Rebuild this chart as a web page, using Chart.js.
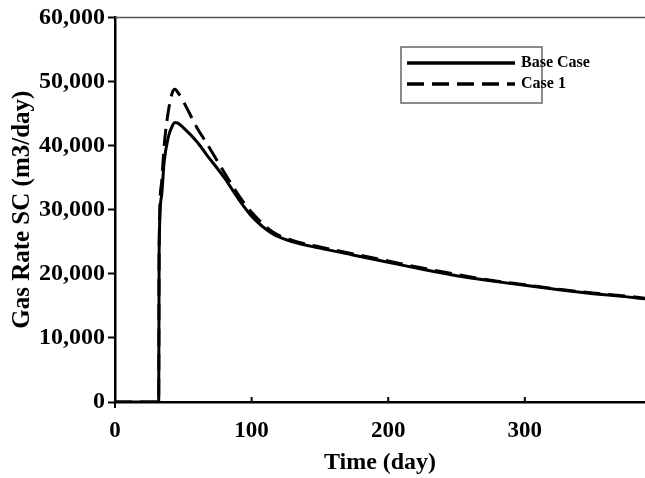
<!DOCTYPE html>
<html>
<head>
<meta charset="utf-8">
<script src="https://cdn.jsdelivr.net/npm/chart.js@4"></script>
<style>
  html, body { margin: 0; padding: 0; background: #fff; }
  #wrap { width: 645px; height: 478px; }
</style>
</head>
<body>
<div id="wrap"><canvas id="chart" width="645" height="478"></canvas></div>
<script>
const days = [0, 32, 32.3, 34, 36, 39, 42, 44, 46, 50, 60, 67, 80, 90, 100, 115, 130, 150, 175, 200, 225, 250, 275, 300, 325, 350, 375, 388];
const baseCase = [0, 0, 23500, 32000, 37500, 41300, 43100, 43600, 43500, 42800, 40600, 38600, 35000, 31800, 29000, 26300, 25000, 24000, 22900, 21800, 20700, 19700, 18900, 18200, 17500, 16900, 16400, 16100];
const case1 = [0, 0, 24000, 34000, 40000, 45300, 48300, 48800, 48300, 46900, 42800, 40400, 35800, 32400, 29600, 26600, 25200, 24200, 23100, 22000, 20900, 19900, 19000, 18300, 17600, 17000, 16500, 16200];
const seriesNames = ["Base Case", "Case 1"];
const xTicks = [0, 100, 200, 300];
const yTicks = [0, 10000, 20000, 30000, 40000, 50000, 60000];

const serif = "'Liberation Serif', 'Times New Roman', serif";

function toPoints(vals) {
  return days.map((d, i) => ({ x: d, y: vals[i] }));
}

// box legend in the top right plus the inner x ticks and top frame line
const extras = {
  id: "extras",
  afterDraw(chart) {
    const ctx = chart.ctx;
    const area = chart.chartArea;
    const xs = chart.scales.x;
    ctx.save();
    ctx.strokeStyle = "#555";
    ctx.lineWidth = 1.5;
    ctx.beginPath();
    ctx.moveTo(area.left, area.top);
    ctx.lineTo(area.right, area.top);
    ctx.stroke();

    ctx.strokeStyle = "#000";
    ctx.lineWidth = 2;
    xTicks.forEach(v => {
      const px = xs.getPixelForValue(v);
      ctx.beginPath();
      if (v === 0) {
        ctx.moveTo(px, area.bottom);
        ctx.lineTo(px, area.bottom + 6);
      } else {
        ctx.moveTo(px, area.bottom);
        ctx.lineTo(px, area.bottom - 5);
      }
      ctx.stroke();
    });

    // legend
    const bx = 401, by = 47, bw = 141, bh = 56;
    ctx.strokeStyle = "#666";
    ctx.lineWidth = 1.5;
    ctx.fillStyle = "#fff";
    ctx.fillRect(bx, by, bw, bh);
    ctx.strokeRect(bx, by, bw, bh);
    ctx.font = "bold 16px " + serif;
    ctx.textBaseline = "middle";
    chart.data.datasets.forEach((ds, i) => {
      const y = by + 16 + i * 21;
      ctx.strokeStyle = "#000";
      ctx.lineWidth = 3.5;
      ctx.setLineDash(ds.borderDash || []);
      ctx.beginPath();
      ctx.moveTo(bx + 6, y);
      ctx.lineTo(bx + 114, y);
      ctx.stroke();
      ctx.setLineDash([]);
      ctx.fillStyle = "#000";
      ctx.fillText(ds.label, bx + 120, y);
    });
    ctx.restore();
  }
};

new Chart(document.getElementById("chart"), {
  type: "line",
  data: {
    datasets: [
      {
        label: seriesNames[0],
        data: toPoints(baseCase),
        borderColor: "#000",
        borderWidth: 3,
        pointRadius: 0,
        cubicInterpolationMode: "monotone"
      },
      {
        label: seriesNames[1],
        data: toPoints(case1),
        borderColor: "#000",
        borderWidth: 3,
        borderDash: [17, 8],
        pointRadius: 0,
        cubicInterpolationMode: "monotone"
      }
    ]
  },
  options: {
    responsive: false,
    animation: false,
    layout: { padding: { top: 16, right: 0, left: 0, bottom: 0 } },
    plugins: { legend: { display: false }, tooltip: { enabled: false } },
    scales: {
      x: {
        type: "linear",
        min: 0,
        max: 388,
        afterBuildTicks: s => { s.ticks = xTicks.map(v => ({ value: v })); },
        afterFit: s => { s.height = 76; },
        grid: { display: false, drawTicks: false },
        border: { color: "#000", width: 2.5 },
        ticks: { color: "#000", padding: 15, font: { family: serif, size: 23, weight: "bold" } },
        title: {
          display: true,
          text: "Time (day)",
          color: "#000",
          padding: { top: 0, bottom: 1 },
          font: { family: serif, size: 24, weight: "bold" }
        }
      },
      y: {
        min: 0,
        max: 60000,
        afterBuildTicks: s => { s.ticks = yTicks.map(v => ({ value: v })); },
        afterFit: s => { s.width = 115; },
        grid: { drawOnChartArea: false, drawTicks: true, tickLength: 7, color: "#000", tickWidth: 2 },
        border: { color: "#000", width: 2.5 },
        ticks: {
          color: "#000",
          padding: 3,
          font: { family: serif, size: 24, weight: "bold" },
          callback: v => v.toLocaleString("en-US")
        },
        title: {
          display: true,
          text: "Gas Rate SC (m3/day)",
          color: "#000",
          padding: { top: 8, bottom: 0 },
          font: { family: serif, size: 25, weight: "bold" }
        }
      }
    }
  },
  plugins: [extras]
});
</script>
</body>
</html>
